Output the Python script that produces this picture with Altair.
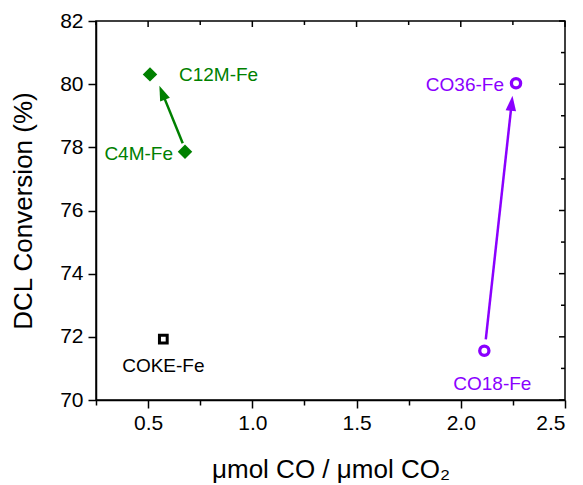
import math
import altair as alt
import pandas as pd

# ---- data ----
names = ["C4M-Fe", "C12M-Fe", "COKE-Fe", "CO18-Fe", "CO36-Fe"]
co_ratio = [0.677, 0.509, 0.573, 2.113, 2.265]
conversion = [77.86, 80.31, 71.93, 71.56, 80.03]
group = ["C", "C", "COKE", "CO", "CO"]

arrow_id = ["green", "purple"]
arrow_x0 = [0.666, 2.120]
arrow_y0 = [78.13, 71.92]
arrow_x1 = [0.554, 2.248]
arrow_y1 = [79.95, 79.63]

x_ticks = [0.25, 0.5, 0.75, 1.0, 1.25, 1.5, 1.75, 2.0, 2.25, 2.5]
y_ticks = [70, 71, 72, 73, 74, 75, 76, 77, 78, 79, 80, 81, 82]

# ---- layout / style ----
W, H = 469, 379
XD = [0.25, 2.5]
YD = [70, 82]
GREEN = "#008000"
PURPLE = "#8A00FF"
FONT = "Liberation Sans"
HEAD_LEN = 15

pts = pd.DataFrame({"name": names, "x": co_ratio, "y": conversion, "g": group})

# arrows: shaft shortened to head base, head angle from pixel direction
kx = W / (XD[1] - XD[0])
ky = H / (YD[1] - YD[0])
rows = []
for i in range(len(arrow_id)):
    dxp = (arrow_x1[i] - arrow_x0[i]) * kx
    dyp = -(arrow_y1[i] - arrow_y0[i]) * ky
    L = math.hypot(dxp, dyp)
    f = 1 - (HEAD_LEN * 0.8) / L
    ang = math.degrees(math.atan2(dxp, -dyp)) % 360
    rows.append({
        "id": arrow_id[i],
        "x0": arrow_x0[i], "y0": arrow_y0[i],
        "x1": arrow_x1[i], "y1": arrow_y1[i],
        "xs": arrow_x0[i] + f * (arrow_x1[i] - arrow_x0[i]),
        "ys": arrow_y0[i] + f * (arrow_y1[i] - arrow_y0[i]),
        "angle": ang,
    })
arr = pd.DataFrame(rows)

xscale = alt.Scale(domain=XD, nice=False, zero=False)
yscale = alt.Scale(domain=YD, nice=False, zero=False)

xaxis = alt.Axis(
    values=x_ticks, format=".1f",
    labelExpr="datum.value % 0.5 == 0 ? datum.label : ''",
    tickSize={"condition": {"test": "datum.value % 0.5 == 0", "value": 8}, "value": 5},
    labelFontSize=21, labelPadding=4, labelFont=FONT, labelColor="black",
    title="μmol CO / μmol CO₂", titleFontSize=26, titleFont=FONT,
    titleFontWeight="normal", titleColor="black",
    titleX=W / 2, titleY=69, titleAlign="center", titleBaseline="middle",
    grid=False,
)
yaxis = alt.Axis(
    values=y_ticks, format="d",
    labelExpr="datum.value % 2 == 0 ? datum.label : ''",
    tickSize={"condition": {"test": "datum.value % 2 == 0", "value": 8}, "value": 5},
    labelFontSize=21, labelPadding=5, labelFont=FONT, labelColor="black",
    title="DCL Conversion (%)", titleFontSize=26, titleFont=FONT,
    titleFontWeight="normal", titleColor="black",
    titleX=-73, titleY=H / 2, titleAlign="center", titleBaseline="middle",
    titleAngle=270,
    grid=False,
)

base = alt.Chart(pts)
X = alt.X("x:Q", scale=xscale, axis=xaxis)
Y = alt.Y("y:Q", scale=yscale, axis=yaxis)

# frame inward ticks (top and right)
xt = pd.DataFrame({"v": x_ticks})
yt = pd.DataFrame({"v": y_ticks})
top_major = alt.Chart(xt).transform_filter("datum.v % 0.5 == 0").mark_rule(
    color="black", strokeWidth=1.5).encode(
    x=alt.X("v:Q", scale=xscale), y=alt.value(0), y2=alt.value(6))
top_minor = alt.Chart(xt).transform_filter("datum.v % 0.5 != 0").mark_rule(
    color="black", strokeWidth=1.5).encode(
    x=alt.X("v:Q", scale=xscale), y=alt.value(0), y2=alt.value(4))
right_major = alt.Chart(yt).transform_filter("datum.v % 2 == 0").mark_rule(
    color="black", strokeWidth=1.5).encode(
    y=alt.Y("v:Q", scale=yscale), x=alt.value(W), x2=alt.value(W - 6))
right_minor = alt.Chart(yt).transform_filter("datum.v % 2 != 0").mark_rule(
    color="black", strokeWidth=1.5).encode(
    y=alt.Y("v:Q", scale=yscale), x=alt.value(W), x2=alt.value(W - 4))

# arrows
shaft_g = alt.Chart(arr).transform_filter("datum.id == 'green'").mark_rule(
    color=GREEN, strokeWidth=2.5).encode(
    x=alt.X("x0:Q", scale=xscale), y=alt.Y("y0:Q", scale=yscale), x2="xs:Q", y2="ys:Q")
shaft_p = alt.Chart(arr).transform_filter("datum.id == 'purple'").mark_rule(
    color=PURPLE, strokeWidth=2.5).encode(
    x=alt.X("x0:Q", scale=xscale), y=alt.Y("y0:Q", scale=yscale), x2="xs:Q", y2="ys:Q")
HEAD = "M0,0L0.7,2L-0.7,2Z"
head_g = alt.Chart(arr).transform_filter("datum.id == 'green'").mark_point(
    shape=HEAD, filled=True, color=GREEN, opacity=1, size=HEAD_LEN ** 2, strokeWidth=0).encode(
    x=alt.X("x1:Q", scale=xscale), y=alt.Y("y1:Q", scale=yscale),
    angle=alt.Angle("angle:Q", scale=None))
head_p = alt.Chart(arr).transform_filter("datum.id == 'purple'").mark_point(
    shape=HEAD, filled=True, color=PURPLE, opacity=1, size=HEAD_LEN ** 2, strokeWidth=0).encode(
    x=alt.X("x1:Q", scale=xscale), y=alt.Y("y1:Q", scale=yscale),
    angle=alt.Angle("angle:Q", scale=None))

# points
p_c = base.transform_filter("datum.g == 'C'").mark_point(
    shape="diamond", filled=True, color=GREEN, opacity=1, size=210).encode(x=X, y=Y)
p_coke = base.transform_filter("datum.g == 'COKE'").mark_point(
    shape="square", filled=False, color="black", opacity=1, size=60, strokeWidth=3).encode(
    x=alt.X("x:Q", scale=xscale), y=alt.Y("y:Q", scale=yscale))
p_co = base.transform_filter("datum.g == 'CO'").mark_point(
    shape="circle", filled=False, color=PURPLE, opacity=1, size=85, strokeWidth=3.3).encode(
    x=alt.X("x:Q", scale=xscale), y=alt.Y("y:Q", scale=yscale))

def label(nm, color, align, dx, dy):
    return base.transform_filter(f"datum.name == '{nm}'").mark_text(
        font=FONT, fontSize=19, color=color, align=align, baseline="middle",
        dx=dx, dy=dy).encode(
        x=alt.X("x:Q", scale=xscale), y=alt.Y("y:Q", scale=yscale), text="name:N")

labels = [
    label("C12M-Fe", GREEN, "left", 29, 1),
    label("C4M-Fe", GREEN, "right", -12, 2),
    label("COKE-Fe", "black", "center", 0, 27),
    label("CO18-Fe", PURPLE, "center", 8, 33),
    label("CO36-Fe", PURPLE, "right", -12, 2),
]

chart = alt.layer(
    p_c, top_major, top_minor, right_major, right_minor,
    shaft_g, shaft_p, head_g, head_p, p_coke, p_co, *labels
).properties(
    width=W, height=H,
    autosize=alt.AutoSizeParams(type="none"),
    padding={"left": 96, "top": 21, "right": 18, "bottom": 85},
    background="white",
).configure_view(
    stroke="black", strokeWidth=1.5
).configure_axis(
    domainColor="black", domainWidth=1.5, tickColor="black", tickWidth=1.5
)

chart.save("out.html", embed_options={"renderer": "svg", "actions": False})
